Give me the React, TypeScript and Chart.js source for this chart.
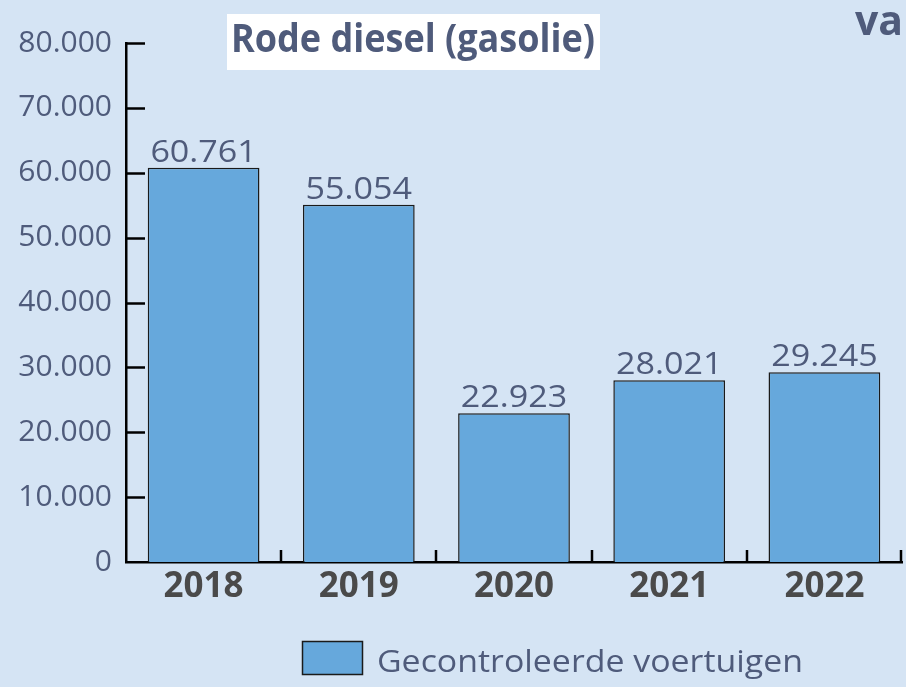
import React, { useEffect, useRef } from "react";
import { Chart, registerables } from "chart.js";

Chart.register(...registerables);

const categories = ["2018", "2019", "2020", "2021", "2022"];
const values = [60761, 55054, 22923, 28021, 29245];
const yTicks = [0, 10000, 20000, 30000, 40000, 50000, 60000, 70000, 80000];
const seriesName = "Gecontroleerde voertuigen";
const titleText = "Rode diesel (gasolie)";
const cornerText = "va";

const BG = "#d5e4f4";
const BAR = "#66a8dc";
const TEXT = "#4f5b7b";
const FONT = "'Open Sans', 'Noto Sans', sans-serif";

function fmt(v: number): string {
  const s = Math.round(v).toString();
  return s.replace(/\B(?=(\d{3})+(?!\d))/g, ".");
}

function drawFitted(ctx: CanvasRenderingContext2D, text: string, x: number, y: number, w: number) {
  const m = ctx.measureText(text).width;
  const sx = w / m;
  ctx.save();
  ctx.translate(x, y);
  ctx.scale(sx, 1);
  ctx.fillText(text, 0, 0);
  ctx.restore();
}

function drawStretched(ctx: CanvasRenderingContext2D, text: string, cx: number, y: number, sx: number) {
  ctx.save();
  ctx.translate(cx, y);
  ctx.scale(sx, 1);
  ctx.textAlign = "center";
  ctx.fillText(text, 0, 0);
  ctx.restore();
}

const customPlugin = {
  id: "custom",
  beforeDraw(chart: any) {
    const ctx = chart.ctx;
    ctx.save();
    ctx.fillStyle = BG;
    ctx.fillRect(0, 0, chart.width, chart.height);
    ctx.restore();
  },
  afterDatasetsDraw(chart: any) {
    const ctx = chart.ctx;
    const area = chart.chartArea;
    const yScale = chart.scales.y;
    ctx.save();
    // y inner ticks
    ctx.strokeStyle = "#000";
    ctx.lineWidth = 2.5;
    yTicks.forEach((t) => {
      if (t === 0) return;
      const py = Math.round(yScale.getPixelForValue(t)) + 0.5;
      ctx.beginPath();
      ctx.moveTo(area.left, py);
      ctx.lineTo(area.left + 19, py);
      ctx.stroke();
    });
    // x inner ticks at category boundaries
    const n = categories.length;
    const step = (area.right - area.left) / n;
    for (let k = 1; k <= n; k++) {
      const px = Math.round(area.left + k * step) - (k === n ? 1 : 0);
      ctx.beginPath();
      ctx.moveTo(px, area.bottom);
      ctx.lineTo(px, area.bottom - 12);
      ctx.stroke();
    }
    // data labels
    ctx.fillStyle = TEXT;
    ctx.font = `400 31px ${FONT}`;
    ctx.textBaseline = "alphabetic";
    const meta = chart.getDatasetMeta(0);
    meta.data.forEach((bar: any, i: number) => {
      drawStretched(ctx, fmt(values[i]), bar.x, bar.y - 6, 1.1);
    });
    // title box
    ctx.fillStyle = "#ffffff";
    ctx.fillRect(227, 14, 373, 56);
    ctx.fillStyle = TEXT;
    ctx.font = `700 40px ${FONT}`;
    ctx.textAlign = "left";
    drawFitted(ctx, titleText, 231, 52, 364);
    // corner text
    ctx.font = `700 42px ${FONT}`;
    drawFitted(ctx, cornerText, 855, 35, 48);
    // legend
    ctx.fillStyle = BAR;
    ctx.fillRect(302, 641, 60, 33);
    ctx.strokeStyle = "#1a1a1a";
    ctx.lineWidth = 1.5;
    ctx.strokeRect(302.5, 641.5, 60, 33);
    ctx.fillStyle = TEXT;
    ctx.font = `400 31px ${FONT}`;
    drawFitted(ctx, seriesName, 377, 672, 426);
    ctx.restore();
  },
};

export default function App() {
  const ref = useRef<HTMLCanvasElement | null>(null);
  useEffect(() => {
    document.body.style.margin = "0";
    document.body.style.background = BG;
    const canvas = ref.current;
    if (!canvas) return;
    const chart = new Chart(canvas, {
      type: "bar",
      data: {
        labels: categories,
        datasets: [
          {
            label: seriesName,
            data: values,
            backgroundColor: BAR,
            borderColor: "#1a1a1a",
            borderWidth: 1.5,
            borderSkipped: "bottom",
            categoryPercentage: 1,
            barPercentage: 0.72,
          },
        ],
      },
      options: {
        responsive: false,
        animation: false,
        layout: { padding: { top: 43, right: 4, left: 0, bottom: 0 } },
        plugins: {
          legend: { display: false },
          title: { display: false },
          tooltip: { enabled: false },
        },
        scales: {
          x: {
            afterFit: (s: any) => {
              s.height = 125;
            },
            grid: { display: false, drawTicks: false },
            border: { display: true, color: "#000", width: 2.5 },
            ticks: {
              padding: 4,
              color: "#4a4a4a",
              font: { family: FONT, size: 35, weight: "bold" },
            },
          },
          y: {
            min: 0,
            max: 80000,
            afterFit: (s: any) => {
              s.width = 126;
            },
            afterBuildTicks: (s: any) => {
              s.ticks = yTicks.map((v) => ({ value: v }));
            },
            grid: { display: false, drawTicks: false },
            border: { display: true, color: "#000", width: 2.5 },
            ticks: {
              padding: 14,
              color: TEXT,
              font: { family: FONT, size: 30 },
              callback: (v: any) => fmt(Number(v)),
            },
          },
        },
      },
      plugins: [customPlugin],
    });
    return () => chart.destroy();
  }, []);
  return (
    <div style={{ width: 906, height: 687 }}>
      <canvas ref={ref} width={906} height={687} style={{ display: "block" }} />
    </div>
  );
}
